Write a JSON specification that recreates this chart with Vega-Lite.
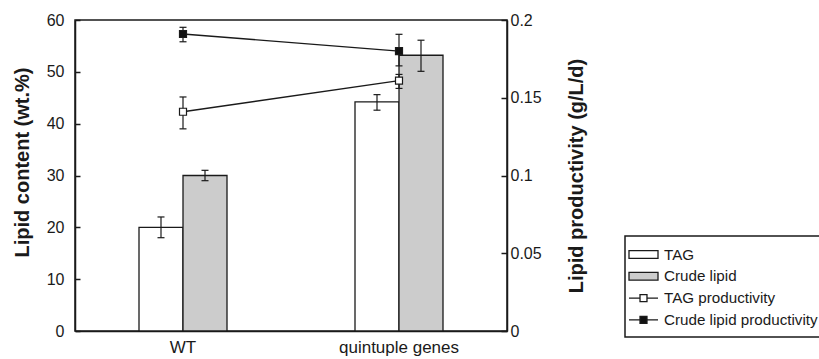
{
  "$schema": "https://vega.github.io/schema/vega-lite/v6.json",
  "width": 432,
  "height": 311,
  "autosize": {"type": "none"},
  "padding": {"left": 75, "top": 20, "right": 312, "bottom": 28},
  "background": "white",
  "config": {
    "font": "Liberation Sans",
    "view": {"stroke": "#1a1a1a", "strokeWidth": 1.5},
    "axis": {
      "domainColor": "#1a1a1a", "domainWidth": 1.5,
      "tickColor": "#1a1a1a", "tickWidth": 1.5,
      "labelColor": "#1a1a1a", "titleColor": "#1a1a1a",
      "grid": false, "labelFont": "Liberation Sans", "titleFont": "Liberation Sans"
    }
  },
  "datasets": {
    "bars": [
      {"group": "WT", "series": "TAG", "value": 20, "lo": 18, "hi": 22},
      {"group": "WT", "series": "Crude lipid", "value": 30, "lo": 29, "hi": 31},
      {"group": "quintuple genes", "series": "TAG", "value": 44.2, "lo": 42.6, "hi": 45.6},
      {"group": "quintuple genes", "series": "Crude lipid", "value": 53.2, "lo": 50.1, "hi": 56.1}
    ],
    "prod": [
      {"group": "WT", "series": "TAG productivity", "value": 0.141, "lo": 0.130, "hi": 0.1505},
      {"group": "WT", "series": "Crude lipid productivity", "value": 0.191, "lo": 0.186, "hi": 0.1953},
      {"group": "quintuple genes", "series": "TAG productivity", "value": 0.161, "lo": 0.156, "hi": 0.165},
      {"group": "quintuple genes", "series": "Crude lipid productivity", "value": 0.180, "lo": 0.1705, "hi": 0.1908}
    ]
  },
  "encoding": {
    "x": {
      "field": "group", "type": "nominal", "sort": ["WT", "quintuple genes"],
      "scale": {"paddingInner": 0, "paddingOuter": 0},
      "axis": {"title": null, "labelAngle": 0, "ticks": false, "labelFontSize": 17, "labelPadding": 8}
    }
  },
  "layer": [
    {
      "data": {"name": "bars"},
      "encoding": {
        "xOffset": {"field": "series", "type": "nominal", "sort": ["TAG", "Crude lipid"], "scale": {"range": [64, 152], "paddingOuter": 0, "paddingInner": 0}}
      },
      "layer": [
        {
          "mark": {"type": "bar", "stroke": "#1a1a1a", "strokeWidth": 1.3},
          "encoding": {
            "y": {
              "field": "value", "type": "quantitative",
              "scale": {"domain": [0, 60], "nice": false},
              "axis": {"title": "Lipid content (wt.%)", "values": [0, 10, 20, 30, 40, 50, 60], "tickSize": -5, "labelPadding": 16, "labelFontSize": 16, "titleFontSize": 20, "titleFontWeight": "bold", "titlePadding": 14, "titleY": 142}
            },
            "fill": {
              "field": "series", "type": "nominal",
              "scale": {"domain": ["TAG", "Crude lipid", "TAG productivity", "Crude lipid productivity"], "range": ["white", "#cccccc", "white", "#111111"]},
              "legend": {
                "title": null, "orient": "none", "legendX": 550, "legendY": 216,
                "labelFontSize": 15.2, "labelColor": "#1a1a1a", "symbolSize": 374,
                "symbolStrokeColor": "#1a1a1a", "symbolStrokeWidth": 1.3,
                "labelOffset": 10, "padding": 8, "rowPadding": 2.8,
                "strokeColor": "#1a1a1a", "fillColor": "white",
                "encode": {
                  "symbols": {"update": {"shape": {"signal": "datum.value === 'TAG' || datum.value === 'Crude lipid' ? 'M-1.5,-0.4H1.5V0.4H-1.5Z' : 'M-1.5,0H-0.36M0.36,0H1.5M-0.36,-0.36H0.36V0.36H-0.36Z'"}, "opacity": {"value": 1}}},
                  "legend": {"update": {"strokeWidth": {"value": 1.5}}}
                }
              }
            }
          }
        },
        {
          "mark": {"type": "rule", "color": "#1a1a1a", "strokeWidth": 1.2},
          "encoding": {
            "y": {
              "field": "lo", "type": "quantitative",
              "axis": {"title": "Lipid content (wt.%)", "values": [0, 10, 20, 30, 40, 50, 60], "tickSize": -5, "labelPadding": 16, "labelFontSize": 16, "titleFontSize": 20, "titleFontWeight": "bold", "titlePadding": 14, "titleY": 142}
            },
            "y2": {"field": "hi"}
          }
        },
        {
          "mark": {"type": "tick", "color": "#1a1a1a", "size": 7, "thickness": 1.2, "opacity": 1},
          "encoding": {"y": {
            "field": "lo", "type": "quantitative",
            "axis": {"title": "Lipid content (wt.%)", "values": [0, 10, 20, 30, 40, 50, 60], "tickSize": -5, "labelPadding": 16, "labelFontSize": 16, "titleFontSize": 20, "titleFontWeight": "bold", "titlePadding": 14, "titleY": 142}
          }}
        },
        {
          "mark": {"type": "tick", "color": "#1a1a1a", "size": 7, "thickness": 1.2, "opacity": 1},
          "encoding": {"y": {
            "field": "hi", "type": "quantitative",
            "axis": {"title": "Lipid content (wt.%)", "values": [0, 10, 20, 30, 40, 50, 60], "tickSize": -5, "labelPadding": 16, "labelFontSize": 16, "titleFontSize": 20, "titleFontWeight": "bold", "titlePadding": 14, "titleY": 142}
          }}
        }
      ]
    },
    {
      "data": {"name": "prod"},
      "layer": [
        {
          "mark": {"type": "line", "color": "#1a1a1a", "strokeWidth": 1.3},
          "encoding": {
            "y": {
              "field": "value", "type": "quantitative",
              "scale": {"domain": [0, 0.2], "nice": false},
              "axis": {"orient": "right", "title": "Lipid productivity (g/L/d)", "values": [0, 0.05, 0.1, 0.15, 0.2], "format": "~g", "tickSize": -6, "labelPadding": 9, "labelFontSize": 16, "titleFontSize": 20, "titleFontWeight": "bold", "titleAngle": 270, "titlePadding": 45}
            },
            "detail": {"field": "series"}
          }
        },
        {
          "mark": {"type": "rule", "color": "#1a1a1a", "strokeWidth": 1.2},
          "encoding": {
            "y": {
              "field": "lo", "type": "quantitative",
              "axis": {"orient": "right", "title": "Lipid productivity (g/L/d)", "values": [0, 0.05, 0.1, 0.15, 0.2], "format": "~g", "tickSize": -6, "labelPadding": 9, "labelFontSize": 16, "titleFontSize": 20, "titleFontWeight": "bold", "titleAngle": 270, "titlePadding": 45}
            },
            "y2": {"field": "hi"}
          }
        },
        {
          "mark": {"type": "tick", "color": "#1a1a1a", "size": 7, "thickness": 1.2, "opacity": 1},
          "encoding": {"y": {
            "field": "lo", "type": "quantitative",
            "axis": {"orient": "right", "title": "Lipid productivity (g/L/d)", "values": [0, 0.05, 0.1, 0.15, 0.2], "format": "~g", "tickSize": -6, "labelPadding": 9, "labelFontSize": 16, "titleFontSize": 20, "titleFontWeight": "bold", "titleAngle": 270, "titlePadding": 45}
          }}
        },
        {
          "mark": {"type": "tick", "color": "#1a1a1a", "size": 7, "thickness": 1.2, "opacity": 1},
          "encoding": {"y": {
            "field": "hi", "type": "quantitative",
            "axis": {"orient": "right", "title": "Lipid productivity (g/L/d)", "values": [0, 0.05, 0.1, 0.15, 0.2], "format": "~g", "tickSize": -6, "labelPadding": 9, "labelFontSize": 16, "titleFontSize": 20, "titleFontWeight": "bold", "titleAngle": 270, "titlePadding": 45}
          }}
        },
        {
          "mark": {"type": "point", "shape": "square", "size": 49, "filled": true, "stroke": "#1a1a1a", "strokeWidth": 1.2, "opacity": 1},
          "encoding": {
            "y": {
              "field": "value", "type": "quantitative",
              "axis": {"orient": "right", "title": "Lipid productivity (g/L/d)", "values": [0, 0.05, 0.1, 0.15, 0.2], "format": "~g", "tickSize": -6, "labelPadding": 9, "labelFontSize": 16, "titleFontSize": 20, "titleFontWeight": "bold", "titleAngle": 270, "titlePadding": 45}
            },
            "fill": {"field": "series", "type": "nominal"}
          }
        }
      ]
    }
  ],
  "resolve": {"scale": {"y": "independent"}}
}
